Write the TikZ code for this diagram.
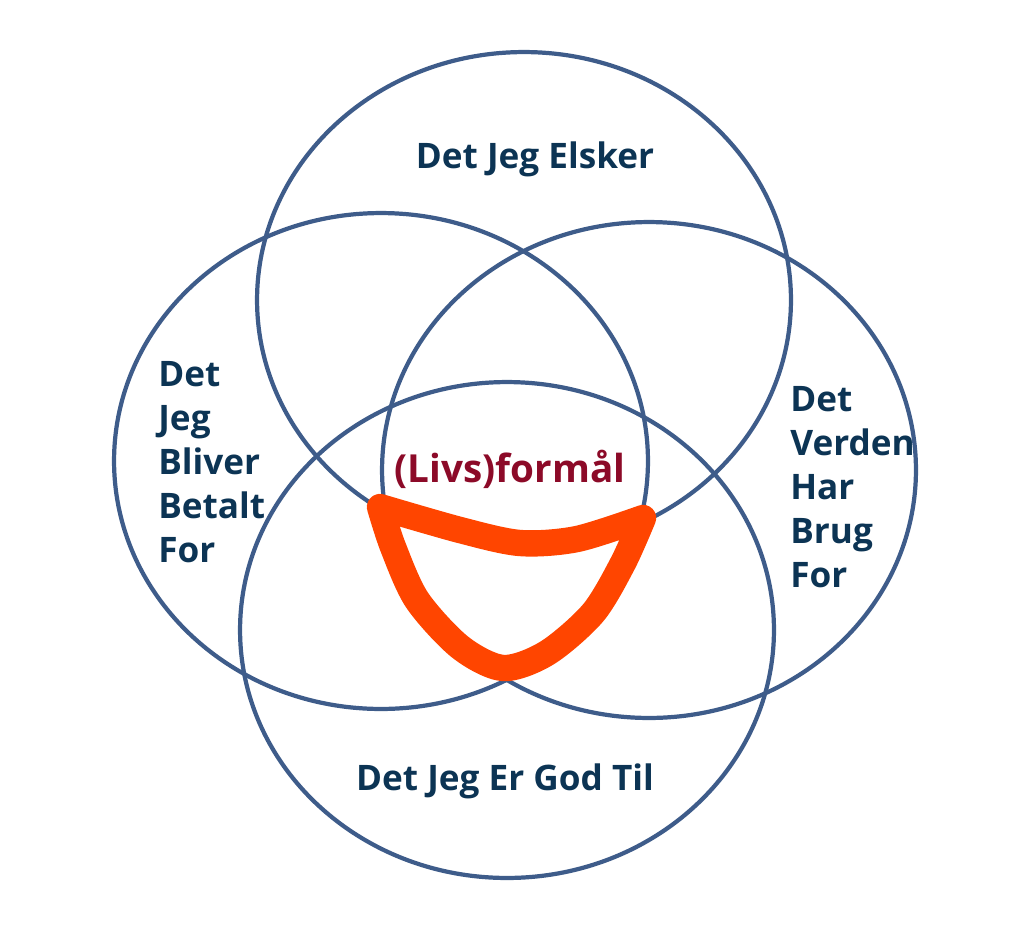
\documentclass[tikz,border=0pt]{standalone}
\usepackage{fontspec}
\setmainfont{Open Sans}
\usepackage{tikz}
\usetikzlibrary{shapes.geometric, arrows}
\definecolor{ringblue}{RGB}{62,92,138}
\definecolor{inkblue}{RGB}{12,52,84}
\definecolor{wine}{RGB}{140,10,40}
\definecolor{marker}{RGB}{255,69,0}
\tikzstyle{ring} = [ellipse, draw=ringblue, line width=2.4pt, minimum width=10.68cm, minimum height=9.92cm, inner sep=0pt]
\tikzstyle{lbl} = [text=inkblue, inner sep=0pt, font=\fontsize{20}{25}\selectfont\bfseries, align=left]
\tikzstyle{pen} = [draw=marker, line width=15pt, line cap=round, line join=round]

\begin{document}
\begin{tikzpicture}[x=0.02cm,y=-0.02cm]
\useasboundingbox (0,0) rectangle (1023,930);
\draw (524,300) node (love) [ring] {};
\draw (381,461) node (paid) [ring] {};
\draw (649,470) node (need) [ring] {};
\draw (507,630) node (good) [ring] {};
\draw (535,168) node (lovetxt) [lbl, anchor=base] {Det Jeg Elsker};
\draw (158,462) node (paidtxt) [lbl, anchor=west] {Det\\Jeg\\Bliver\\Betalt\\For};
\draw (790,487) node (needtxt) [lbl, anchor=west] {Det\\Verden\\Har\\Brug\\For};
\draw (505,790) node (goodtxt) [lbl, anchor=base] {Det Jeg Er God Til};
\draw (510,482) node (purpose) [lbl, text=wine, font=\fontsize{22}{30}\selectfont\bfseries, anchor=base] {(Livs)formål};
% markering
\draw[pen] plot[smooth] coordinates {(380,507) (460,530) (520,543) (577,539) (643,518)}
  -- plot[smooth] coordinates {(643,518) (623,563) (593,613) (547,653) (503,668) (460,647) (417,600) (393,547) (380,507)};
\end{tikzpicture}
\end{document}
